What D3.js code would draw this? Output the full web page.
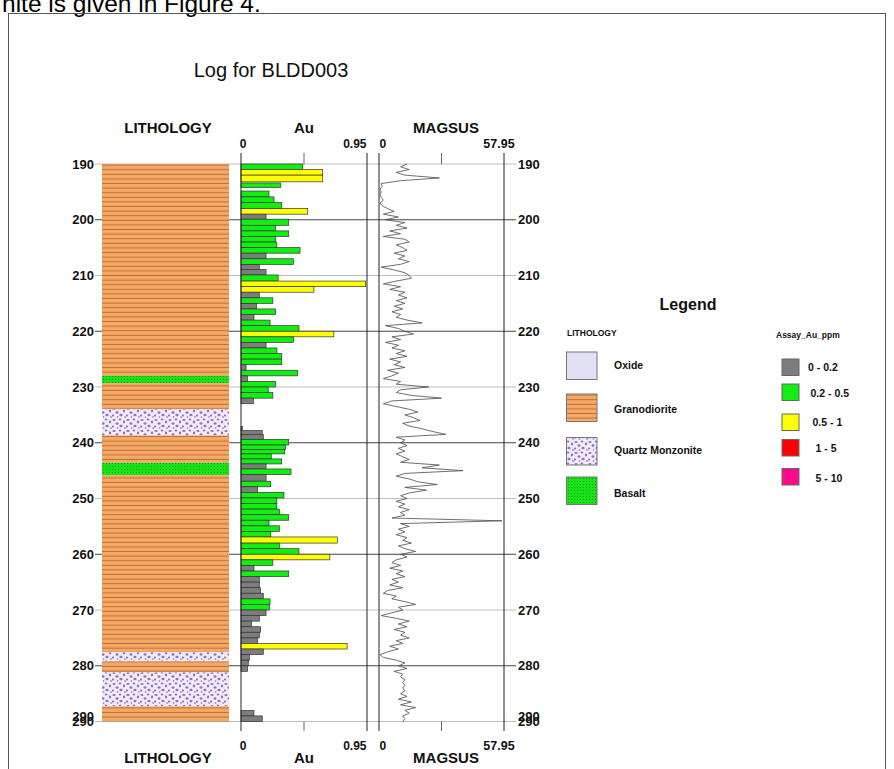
<!DOCTYPE html>
<html>
<head>
<meta charset="utf-8">
<script src="https://cdn.jsdelivr.net/npm/d3@7"></script>
<style>
  html, body { margin: 0; padding: 0; background: #fff; }
  svg { display: block; }
  text { font-family: "Liberation Sans", Arial, sans-serif; }
</style>
</head>
<body>
<svg id="chart" width="894" height="769"></svg>
<script>
// ---------------- DATA ----------------
const depthTicks = [190, 200, 210, 220, 230, 240, 250, 260, 270, 280, 290];

// Lithology intervals
const litFrom = [190, 228.0, 229.3, 234.0, 238.7, 243.6, 245.8, 277.6, 279.2, 281.2, 287.3];
const litTo   = [228.0, 229.3, 234.0, 238.7, 243.6, 245.8, 277.6, 279.2, 281.2, 287.3, 290];
const litType = ["Granodiorite", "Basalt", "Granodiorite", "Quartz Monzonite", "Granodiorite", "Basalt",
                 "Granodiorite", "Quartz Monzonite", "Granodiorite", "Quartz Monzonite", "Granodiorite"];

// Au assay intervals (ppm)
const auFrom = [190, 191, 192, 193.4, 194.85, 195.9, 196.9, 198, 199, 199.9, 201, 202, 203, 204, 205, 206, 207, 208, 208.9, 209.9,
                211, 212, 213, 214, 215, 216, 217, 218, 219, 220, 221, 222, 223, 224, 225, 226, 227, 228, 229, 230, 231, 232,
                237.1, 237.8, 238.5, 239.4, 240.4, 241.2, 242, 242.9, 243.8, 244.7, 245.7, 246.9, 247.9, 248.9, 249.9, 250.9,
                251.9, 252.9, 253.9, 254.9, 255.9, 256.9, 258, 259, 260, 261, 262, 263, 264, 265, 266, 267, 268, 269, 270,
                271, 272, 273, 274, 275, 276, 277, 278, 279, 280, 288, 289];
const auTo   = [191, 192, 193.2, 194.2, 195.9, 196.9, 198, 199, 199.9, 201, 202, 203, 204, 205, 206, 207, 208, 208.9, 209.9, 211,
                212, 213, 214, 215, 216, 217, 218, 219, 220, 221, 222, 223, 224, 225, 226, 227, 228, 229, 230, 231, 232, 233,
                237.8, 238.5, 239.4, 240.4, 241.2, 242, 242.9, 243.8, 244.7, 245.7, 246.9, 247.9, 248.9, 249.9, 250.9, 251.9,
                252.9, 253.9, 254.9, 255.9, 256.9, 258, 259, 260, 261, 262, 263, 264, 265, 266, 267, 268, 269, 270, 271,
                272, 273, 274, 275, 276, 277, 278, 279, 280, 281, 289, 290];
const auValue = [0.465, 0.616, 0.616, 0.30, 0.211, 0.249, 0.307, 0.503, 0.189, 0.36, 0.26, 0.36, 0.26, 0.27, 0.445, 0.189, 0.395, 0.138, 0.189, 0.28,
                 0.94, 0.55, 0.138, 0.24, 0.118, 0.26, 0.098, 0.219, 0.437, 0.70, 0.395, 0.189, 0.271, 0.307, 0.307, 0.038, 0.427, 0.048, 0.26, 0.205, 0.24, 0.093,
                 0.01, 0.16, 0.168, 0.36, 0.336, 0.33, 0.228, 0.307, 0.189, 0.377, 0.189, 0.224, 0.126, 0.324, 0.27, 0.27,
                 0.289, 0.36, 0.211, 0.289, 0.224, 0.726, 0.289, 0.437, 0.67, 0.24, 0.098, 0.36, 0.138, 0.138, 0.148, 0.168, 0.219, 0.214, 0.189,
                 0.138, 0.08, 0.148, 0.138, 0.126, 0.80, 0.168, 0.063, 0.055, 0.05, 0.098, 0.16];

// Magnetic susceptibility, 0.5 m steps from 190 m to 290 m
const magStart = 190, magStep = 0.5;
const magValue = [
  13, 10, 14, 8, 12, 28, 10, 1, 1.5, 0.5,      // 190 - 194.5
  1, 0.5, 1, 2, 0.5, 1.5, 4, 7, 2, 9,          // 195 - 199.5
  3, 12, 8, 13, 5, 10, 2, 12, 14, 8,           // 200 - 204.5
  11, 13, 7, 12, 9, 14, 10, 1, 7, 12,          // 205 - 209.5
  14, 15, 8, 2, 10, 5, 12, 9, 13, 8,           // 210 - 214.5
  12, 7, 11, 6, 10, 8, 13, 20, 3, 9,           // 215 - 219.5
  12, 16, 6, 10, 3, 9, 6, 12, 8, 13,           // 220 - 224.5
  5, 10, 7, 12, 4, 9, 6, 2, 10, 8,             // 225 - 229.5
  23, 10, 8, 15, 29, 6, 2, 8, 14, 18,          // 230 - 234.5
  12, 16, 19, 11, 14, 20, 25, 31, 8, 12,       // 235 - 239.5
  10, 13, 9, 12, 8, 11, 14, 10, 28, 20,        // 240 - 244.5
  39, 12, 8, 14, 18, 27, 12, 22, 14, 10,       // 245 - 249.5
  13, 8, 12, 9, 14, 10, 12, 6, 57, 10,         // 250 - 254.5
  14, 9, 12, 8, 13, 11, 15, 9, 12, 17,         // 255 - 259.5
  10, 13, 8, 6, 10, 5, 11, 8, 12, 6,           // 260 - 264.5
  9, 5, 11, 4, 2, 8, 6, 12, 17, 9,             // 265 - 269.5
  11, 6, 1, 8, 14, 9, 13, 7, 12, 10,           // 270 - 274.5
  14, 8, 11, 5, 9, 4, 0.5, 2, 8, 12,           // 275 - 279.5
  9, 13, 7, 11, 10, 12, 11, 12, 11, 12,        // 280 - 284.5
  10, 13, 9, 15, 10, 17, 12, 14, 11, 12,       // 285 - 289.5
  11                                           // 290
];

const auMax = 0.95, magMax = 57.95;
const auTickLabels = ["0", "0.95"];
const magTickLabels = ["0", "57.95"];

const lithLegend = ["Oxide", "Granodiorite", "Quartz Monzonite", "Basalt"];
const assayClasses = ["0 - 0.2", "0.2 - 0.5", "0.5 - 1", "1 - 5", "5 - 10"];
const assayBreaks = [0.2, 0.5, 1, 5];
const assayColors = ["#7d7d7d", "#11ee11", "#ffff00", "#ff0000", "#ff0a8c"];

// ---------------- DRAWING ----------------
const svg = d3.select("#chart");
const FONT = "'Liberation Sans', Arial, sans-serif";

// patterns
const defs = svg.append("defs");
const pg = defs.append("pattern").attr("id", "pGrano").attr("patternUnits", "userSpaceOnUse")
  .attr("width", 20).attr("height", 4.6);
pg.append("rect").attr("width", 20).attr("height", 4.6).attr("fill", "#f6a965");
pg.append("rect").attr("y", 3.6).attr("width", 20).attr("height", 1).attr("fill", "#b86f3c");

const pb = defs.append("pattern").attr("id", "pBasalt").attr("patternUnits", "userSpaceOnUse")
  .attr("width", 3).attr("height", 3);
pb.append("rect").attr("width", 3).attr("height", 3).attr("fill", "#18e418");
pb.append("rect").attr("x", 1).attr("y", 1).attr("width", 1).attr("height", 1).attr("fill", "#0a9a0a");

const pq = defs.append("pattern").attr("id", "pQM").attr("patternUnits", "userSpaceOnUse")
  .attr("width", 14).attr("height", 11);
pq.append("rect").attr("width", 14).attr("height", 11).attr("fill", "#f6eaf4");
[[2,2,1.6,1.1],[8,1.5,1.3,1.0],[12,4,1.2,1.4],[5,5.5,1.5,1.2],[1,8.5,1.2,1.0],[9,8,1.6,1.2],[13,10,1,0.8],[5.5,10,0.9,0.7]]
  .forEach(([cx, cy, rx, ry]) => pq.append("ellipse").attr("cx", cx).attr("cy", cy).attr("rx", rx).attr("ry", ry).attr("fill", "#7f78d2"));

const litFill = {
  "Oxide": "#e2e0f4",
  "Granodiorite": "url(#pGrano)",
  "Quartz Monzonite": "url(#pQM)",
  "Basalt": "url(#pBasalt)"
};

// scales
const y = d3.scaleLinear().domain([190, 290]).range([164, 721.5]);
const xAu = d3.scaleLinear().domain([0, auMax]).range([241, 367]);
const xMag = d3.scaleLinear().domain([0, magMax]).range([379, 504]);
const litX0 = 102, litX1 = 229;
const auColor = d3.scaleThreshold().domain(assayBreaks).range(assayColors);

// page fragment text & frame
svg.append("text").attr("x", 2).attr("y", 12).attr("font-family", "'Liberation Serif', 'Times New Roman', serif")
  .attr("font-size", 24.5).attr("fill", "#000").text("nite is given in Figure 4.");
svg.append("rect").attr("x", 8.5).attr("y", 13.5).attr("width", 877).attr("height", 770)
  .attr("fill", "none").attr("stroke", "#555").attr("stroke-width", 1);

// title
svg.append("text").attr("x", 271).attr("y", 77).attr("text-anchor", "middle")
  .attr("font-size", 20).attr("font-family", FONT).attr("fill", "#111").text("Log for BLDD003");

// depth grid lines
svg.append("g").selectAll("line").data(depthTicks).join("line")
  .attr("x1", 95).attr("x2", 516)
  .attr("y1", d => y(d)).attr("y2", d => y(d))
  .attr("stroke", d => d % 20 === 0 ? "#444" : "#bdbdbd").attr("stroke-width", 1);

// lithology column
svg.append("g").selectAll("rect").data(litFrom.map((f, i) => ({f, t: litTo[i], k: litType[i]}))).join("rect")
  .attr("x", litX0).attr("width", litX1 - litX0)
  .attr("y", d => y(d.f)).attr("height", d => y(d.t) - y(d.f))
  .attr("fill", d => litFill[d.k]);

// Au bars
svg.append("g").selectAll("rect").data(auFrom.map((f, i) => ({f, t: auTo[i], v: auValue[i]}))).join("rect")
  .attr("x", xAu(0)).attr("width", d => xAu(d.v) - xAu(0))
  .attr("y", d => y(d.f)).attr("height", d => y(d.t) - y(d.f))
  .attr("fill", d => auColor(d.v)).attr("stroke", "#333").attr("stroke-width", 0.7);

// vertical track lines
const vLines = [xAu(0), xAu(auMax), xMag(0), xMag(magMax)];
svg.append("g").selectAll("line").data(vLines).join("line")
  .attr("x1", d => d).attr("x2", d => d).attr("y1", 153).attr("y2", 731)
  .attr("stroke", "#222").attr("stroke-width", 1);
// mid ticks
const midTicks = [xAu(auMax / 2), xMag(magMax / 2)];
[[153, 164], [721.5, 731]].forEach(([a, b]) => {
  svg.append("g").selectAll("line").data(midTicks).join("line")
    .attr("x1", d => d).attr("x2", d => d).attr("y1", a).attr("y2", b)
    .attr("stroke", "#666").attr("stroke-width", 1);
});

// magsus line
const magPts = magValue.map((v, i) => [xMag(v), y(magStart + i * magStep)]);
svg.append("path").attr("d", d3.line()(magPts)).attr("fill", "none")
  .attr("stroke", "#4a4a4a").attr("stroke-width", 0.8);

// depth axes
const axL = svg.append("g").attr("transform", `translate(${litX0},0)`)
  .call(d3.axisLeft(y).tickValues(depthTicks).tickSize(0).tickPadding(8).tickFormat(d3.format("d")));
const axR = svg.append("g").attr("transform", `translate(516,0)`)
  .call(d3.axisRight(y).tickValues(depthTicks).tickSize(0).tickPadding(2).tickFormat(d3.format("d")));
[axL, axR].forEach(ax => {
  ax.select(".domain").remove();
  ax.selectAll("text").attr("font-family", FONT).attr("font-size", 13).attr("font-weight", "bold").attr("fill", "#111");
});
// overlapped bottom labels (as in source)
[[litX0 - 8, "end"], [518, "start"]].forEach(([x, a]) => {
  svg.append("text").attr("x", x).attr("y", y(290) - 0.5).attr("text-anchor", a)
    .attr("font-family", FONT).attr("font-size", 13).attr("font-weight", "bold").attr("fill", "#111").text("290");
});

// headers top and bottom
function headers(hy, ty) {
  const g = svg.append("g").attr("font-family", FONT).attr("font-weight", "bold").attr("fill", "#111");
  g.append("text").attr("x", 168).attr("y", hy).attr("text-anchor", "middle").attr("font-size", 15).text("LITHOLOGY");
  g.append("text").attr("x", 304).attr("y", hy).attr("text-anchor", "middle").attr("font-size", 15).text("Au");
  g.append("text").attr("x", 446).attr("y", hy).attr("text-anchor", "middle").attr("font-size", 15).text("MAGSUS");
  g.append("text").attr("x", xAu(0) + 2).attr("y", ty).attr("text-anchor", "middle").attr("font-size", 12).text(auTickLabels[0]);
  g.append("text").attr("x", xAu(auMax) - 0.5).attr("y", ty).attr("text-anchor", "end").attr("font-size", 12).text(auTickLabels[1]);
  g.append("text").attr("x", xMag(0) + 0.5).attr("y", ty).attr("text-anchor", "start").attr("font-size", 12).text(magTickLabels[0]);
  g.append("text").attr("x", xMag(magMax) - 5).attr("y", ty).attr("text-anchor", "middle").attr("font-size", 12.5)
    .text(magTickLabels[1]);
}
headers(133.3, 148.3);
headers(763, 750);

// ---------------- LEGEND ----------------
const lg = svg.append("g").attr("font-family", FONT).attr("font-weight", "bold").attr("fill", "#111");
lg.append("text").attr("x", 688).attr("y", 310).attr("text-anchor", "middle").attr("font-size", 16).text("Legend");
lg.append("text").attr("x", 567).attr("y", 336).attr("font-size", 8.5).text("LITHOLOGY");
lg.append("text").attr("x", 776).attr("y", 338).attr("font-size", 8.5).text("Assay_Au_ppm");

const litSwY = [352, 394, 437.5, 477];
const litLabY = [369, 413, 454, 497];
lithLegend.forEach((k, i) => {
  lg.append("rect").attr("x", 566.5).attr("y", litSwY[i]).attr("width", 30.5).attr("height", 27.5)
    .attr("fill", litFill[k]).attr("stroke", "#777").attr("stroke-width", 1);
  lg.append("text").attr("x", 614).attr("y", litLabY[i]).attr("font-size", 10.5).text(k);
});

const asSwY = [359, 384, 414, 439.5, 468.5];
const asLabX = [808, 810.5, 812.5, 815.5, 815.5];
const asLabY = [371, 397, 426, 452, 481.5];
assayClasses.forEach((k, i) => {
  lg.append("rect").attr("x", 782).attr("y", asSwY[i]).attr("width", 17).attr("height", 16.5)
    .attr("fill", assayColors[i]).attr("stroke", "#666").attr("stroke-width", 1);
  lg.append("text").attr("x", asLabX[i]).attr("y", asLabY[i]).attr("font-size", 10.5).text(k);
});
</script>
</body>
</html>
